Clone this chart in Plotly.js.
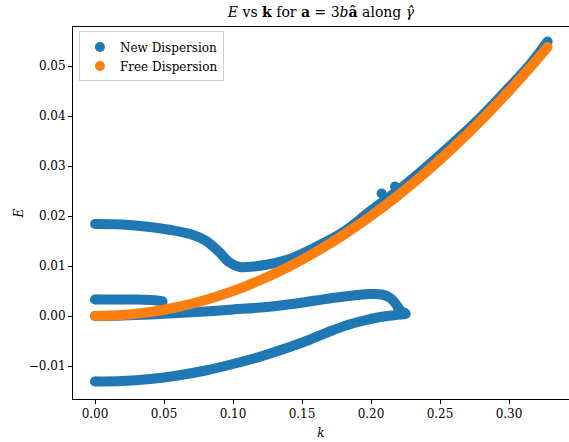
<!DOCTYPE html>
<html>
<head>
<meta charset="utf-8">
<script src="https://cdn.plot.ly/plotly-3.0.1.min.js"></script>
<style>html,body{margin:0;padding:0;background:#fff;}#chart{width:569px;height:442px;}</style>
</head>
<body>
<div id="chart"></div>
<script>
// ---- Data ----
// Free dispersion
const freeK = [0, 0.02, 0.04, 0.06, 0.08, 0.10, 0.12, 0.14, 0.16, 0.18, 0.20, 0.22, 0.24, 0.26, 0.28, 0.30, 0.315, 0.328];
const freeE = [0.0000, 0.0002, 0.0008, 0.0018, 0.0032, 0.0050, 0.0072, 0.0098, 0.0128, 0.0162, 0.0200, 0.0242, 0.0288, 0.0338, 0.0392, 0.0450, 0.0496, 0.0538];

// New dispersion, branch 1 (upper)
const upperK = [0, 0.02, 0.04, 0.055, 0.07, 0.08, 0.09, 0.097, 0.105, 0.115, 0.125, 0.14, 0.16, 0.18, 0.20, 0.22, 0.24, 0.26, 0.28, 0.30, 0.315, 0.328];
const upperE = [0.0184, 0.0183, 0.0178, 0.0172, 0.0163, 0.0151, 0.0128, 0.0108, 0.0098, 0.0099, 0.0103, 0.0113, 0.0138, 0.0168, 0.0211, 0.0252, 0.0298, 0.0347, 0.0399, 0.0457, 0.0502, 0.0549];

// New dispersion, branch 2 (short stub)
const stubK = [0, 0.01, 0.02, 0.03, 0.04, 0.045, 0.049];
const stubE = [0.0033, 0.0033, 0.0033, 0.0033, 0.0032, 0.0031, 0.0029];

// New dispersion, branch 3 (middle, hooks down near k = 0.22)
const midK = [0, 0.02, 0.04, 0.06, 0.08, 0.10, 0.12, 0.14, 0.16, 0.175, 0.19, 0.20, 0.208, 0.214, 0.218, 0.221, 0.225];
const midE = [0.0000, 0.0001, 0.0003, 0.0006, 0.0009, 0.0013, 0.0017, 0.0023, 0.0031, 0.0037, 0.0042, 0.0044, 0.0043, 0.0036, 0.0024, 0.0012, 0.0005];

// New dispersion, branch 4 (lowest)
const lowK = [0, 0.02, 0.04, 0.06, 0.08, 0.10, 0.12, 0.14, 0.155, 0.17, 0.183, 0.195, 0.205, 0.215, 0.225];
const lowE = [-0.0131, -0.0130, -0.0126, -0.0119, -0.0109, -0.0096, -0.0081, -0.0063, -0.0048, -0.0031, -0.0018, -0.0009, -0.0003, 0.0001, 0.0004];

// Isolated points of the new dispersion
const extraK = [0.2077, 0.2174];
const extraE = [0.0245, 0.0259];

const seriesNames = ["New Dispersion", "Free Dispersion"];
const blue = "#1f77b4", orange = "#ff7f0e";

// ---- Build traces ----
function joinSegments(segs) {
  const x = [], y = [];
  segs.forEach((s, i) => {
    if (i > 0) { x.push(null); y.push(null); }
    x.push(...s[0]); y.push(...s[1]);
  });
  return {x, y};
}
const branches = [[lowK, lowE], [midK, midE], [stubK, stubE], [upperK, upperE]];
const newSeg = joinSegments(branches);
const W = 10;

const ends = (arrs) => {
  const x = [], y = [];
  arrs.forEach(a => { x.push(a[0][0], a[0][a[0].length - 1]); y.push(a[1][0], a[1][a[1].length - 1]); });
  return {x, y};
};
const newEnds = ends(branches);

const traces = [
  {x: newSeg.x, y: newSeg.y, mode: "lines", connectgaps: false,
   line: {color: blue, width: W, shape: "spline", smoothing: 1},
   showlegend: false, hoverinfo: "skip"},
  {x: newEnds.x.concat(extraK), y: newEnds.y.concat(extraE), mode: "markers",
   marker: {color: blue, size: W}, showlegend: false, hoverinfo: "skip"},
  {x: freeK, y: freeE, mode: "lines",
   line: {color: orange, width: W, shape: "spline", smoothing: 1},
   showlegend: false, hoverinfo: "skip"},
  {x: [freeK[0], freeK[freeK.length - 1]], y: [freeE[0], freeE[freeE.length - 1]], mode: "markers",
   marker: {color: orange, size: W}, showlegend: false, hoverinfo: "skip"},
  {x: [null], y: [null], mode: "markers", name: seriesNames[0], marker: {color: blue, size: 10}},
  {x: [null], y: [null], mode: "markers", name: seriesNames[1], marker: {color: orange, size: 10}}
];

const font = "DejaVu Serif";
const layout = {
  width: 569, height: 442,
  margin: {l: 73, r: 0, t: 27, b: 43, pad: 0},
  paper_bgcolor: "#fff", plot_bgcolor: "#fff",
  font: {family: font, size: 12, color: "#000"},
  title: {text: "<i>E</i> vs <b>k</b> for <b>a</b> = 3<i>b</i><b>â</b> along <i>γ̂</i>",
          font: {family: font, size: 14, color: "#000"},
          x: 0.5, xref: "paper", y: 0.972, yref: "container", yanchor: "middle"},
  xaxis: {range: [-0.01594, 0.34348], tickvals: [0, 0.05, 0.1, 0.15, 0.2, 0.25, 0.3],
          tickformat: ".2f", ticks: "outside", ticklen: 4, tickwidth: 1, tickcolor: "#000",
          tickfont: {family: font, size: 12},
          showline: true, linecolor: "#000", linewidth: 1, mirror: true,
          showgrid: false, zeroline: false, automargin: false,
          title: {text: "<i>k</i>", standoff: 8, font: {family: font, size: 12}}},
  yaxis: {range: [-0.0166, 0.0578], tickvals: [-0.01, 0, 0.01, 0.02, 0.03, 0.04, 0.05],
          tickformat: ".2f", ticks: "outside", ticklen: 4, tickwidth: 1, tickcolor: "#000",
          tickfont: {family: font, size: 12},
          showline: true, linecolor: "#000", linewidth: 1, mirror: false,
          showgrid: false, zeroline: false, automargin: false,
          title: {text: "<i>E</i>", standoff: 2, font: {family: font, size: 12}}},
  legend: {x: 0.012, y: 0.988, xanchor: "left", yanchor: "top",
           bgcolor: "rgba(255,255,255,0.85)", bordercolor: "#d0d0d0", borderwidth: 1,
           font: {family: font, size: 12}, tracegroupgap: 0},
  showlegend: true
};

Plotly.newPlot("chart", traces, layout, {displayModeBar: false, staticPlot: true});
</script>
</body>
</html>
